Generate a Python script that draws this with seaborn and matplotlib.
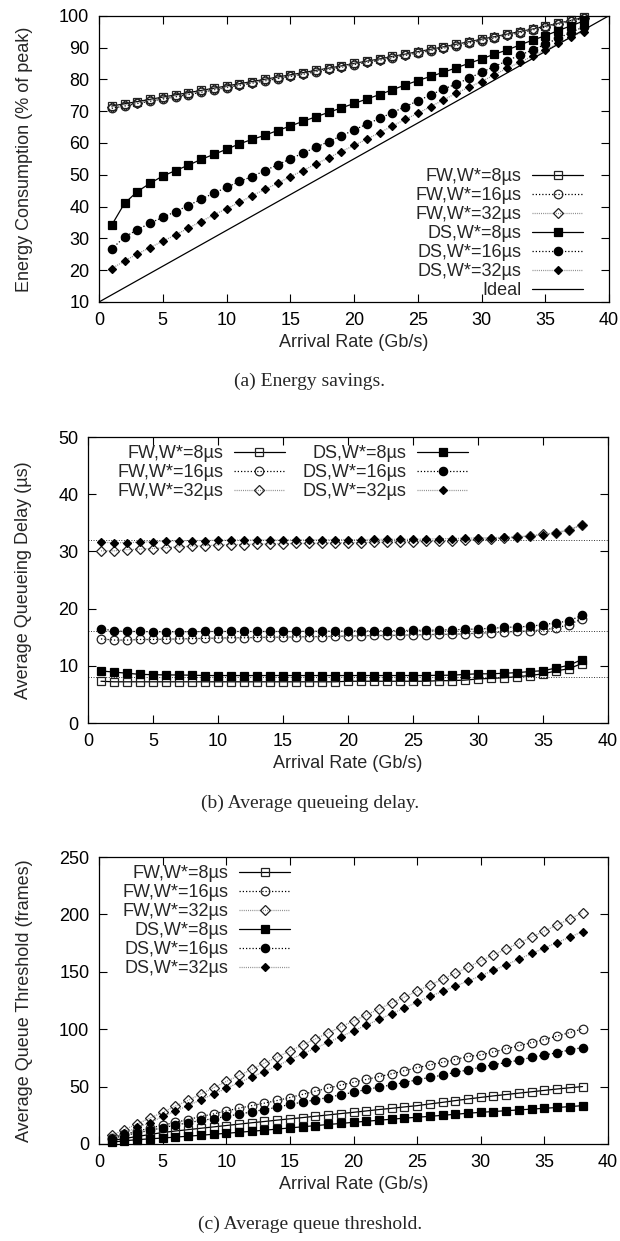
import matplotlib
matplotlib.use("Agg")
import matplotlib.pyplot as plt
import seaborn as sns

# ---------------------------------------------------------------- data
ARRIVAL = list(range(1, 39))            # arrival rate, Gb/s
X_TICKS = [0, 5, 10, 15, 20, 25, 30, 35, 40]

SERIES_LABELS = ["FW,W*=8µs", "FW,W*=16µs", "FW,W*=32µs",
                 "DS,W*=8µs", "DS,W*=16µs", "DS,W*=32µs"]
IDEAL_LABEL = "Ideal"

# (a) energy consumption, % of peak
ENERGY_FW8 = [71.6, 72.3, 73.0, 73.7, 74.4, 75.1, 75.8, 76.5, 77.2, 77.9,
              78.6, 79.3, 80.0, 80.7, 81.4, 82.1, 82.8, 83.5, 84.2, 85.0,
              85.7, 86.4, 87.2, 87.9, 88.7, 89.4, 90.2, 91.0, 91.8, 92.6,
              93.4, 94.2, 95.0, 95.8, 96.7, 97.6, 98.5, 99.5]
ENERGY_FW16 = [70.9, 71.6, 72.4, 73.1, 73.8, 74.5, 75.2, 75.9, 76.7, 77.4,
               78.1, 78.8, 79.5, 80.2, 80.9, 81.6, 82.4, 83.1, 83.8, 84.6,
               85.3, 86.0, 86.8, 87.5, 88.3, 89.0, 89.8, 90.6, 91.4, 92.2,
               93.0, 93.8, 94.6, 95.5, 96.4, 97.3, 98.2, 99.2]
ENERGY_FW32 = [71.2, 72.0, 72.7, 73.4, 74.1, 74.8, 75.5, 76.2, 76.9, 77.6,
               78.3, 79.0, 79.7, 80.4, 81.1, 81.8, 82.6, 83.3, 84.0, 84.8,
               85.5, 86.2, 87.0, 87.7, 88.5, 89.2, 90.0, 90.8, 91.6, 92.4,
               93.2, 94.0, 94.8, 95.7, 96.6, 97.5, 98.4, 99.4]
ENERGY_DS8 = [34.2, 41.0, 44.7, 47.3, 49.6, 51.3, 53.0, 54.8, 56.4, 58.0,
              59.7, 61.1, 62.4, 63.9, 65.3, 66.8, 68.2, 69.6, 71.0, 72.4,
              73.8, 75.2, 76.7, 78.2, 79.6, 80.9, 82.2, 83.6, 85.0, 86.4,
              87.9, 89.2, 90.8, 92.3, 93.7, 95.3, 96.8, 98.3]
ENERGY_DS16 = [26.7, 30.4, 32.7, 34.8, 36.6, 38.4, 40.3, 42.3, 44.2, 46.0,
               47.9, 49.4, 51.3, 53.1, 55.0, 56.8, 58.6, 60.4, 62.2, 64.1,
               65.9, 67.7, 69.5, 71.4, 73.2, 75.1, 76.9, 78.5, 80.3, 82.2,
               84.0, 85.8, 87.6, 89.2, 91.0, 92.9, 94.7, 96.5]
ENERGY_DS32 = [20.5, 22.9, 25.1, 27.1, 29.1, 31.1, 33.2, 35.3, 37.4, 39.3,
               41.3, 43.4, 45.4, 47.3, 49.4, 51.3, 53.4, 55.3, 57.3, 59.2,
               61.2, 63.2, 65.3, 67.4, 69.3, 71.4, 73.5, 75.6, 77.5, 79.3,
               81.4, 83.5, 85.3, 87.3, 89.2, 91.3, 93.2, 95.0]
IDEAL_X = [0, 40]
IDEAL_Y = [10, 100]
ENERGY_YTICKS = [10, 20, 30, 40, 50, 60, 70, 80, 90, 100]

# (b) average queueing delay, µs
DELAY_FW8 = [7.3, 7.2, 7.2, 7.2, 7.2, 7.2, 7.2, 7.2, 7.2, 7.2,
             7.2, 7.2, 7.2, 7.2, 7.2, 7.2, 7.2, 7.2, 7.2, 7.3,
             7.3, 7.3, 7.3, 7.3, 7.3, 7.3, 7.4, 7.4, 7.5, 7.7,
             7.8, 7.9, 8.1, 8.3, 8.6, 9.1, 9.5, 10.4]
DELAY_FW16 = [14.7, 14.5, 14.5, 14.6, 14.6, 14.65, 14.7, 14.75, 14.8, 14.85,
              14.9, 14.9, 14.95, 15.0, 15.0, 15.05, 15.1, 15.1, 15.15, 15.2,
              15.25, 15.3, 15.3, 15.35, 15.4, 15.45, 15.5, 15.5, 15.6, 15.7,
              15.8, 15.9, 16.0, 16.1, 16.3, 16.6, 17.2, 18.2]
DELAY_FW32 = [30.1, 30.1, 30.3, 30.4, 30.5, 30.65, 30.8, 30.9, 31.0, 31.1,
              31.2, 31.2, 31.3, 31.3, 31.35, 31.4, 31.4, 31.45, 31.5, 31.5,
              31.55, 31.6, 31.6, 31.65, 31.7, 31.75, 31.8, 31.9, 32.0, 32.1,
              32.2, 32.3, 32.5, 32.7, 33.0, 33.2, 33.7, 34.6]
DELAY_DS8 = [9.1, 8.9, 8.7, 8.5, 8.45, 8.4, 8.4, 8.35, 8.3, 8.3,
             8.3, 8.3, 8.3, 8.3, 8.3, 8.3, 8.3, 8.3, 8.3, 8.3,
             8.3, 8.3, 8.3, 8.3, 8.3, 8.3, 8.35, 8.35, 8.5, 8.6,
             8.6, 8.7, 8.8, 9.0, 9.15, 9.6, 10.1, 11.1]
DELAY_DS16 = [16.5, 16.1, 16.0, 16.0, 15.95, 15.95, 15.95, 15.95, 16.0, 16.0,
              16.0, 16.0, 16.0, 16.0, 16.0, 16.0, 16.05, 16.05, 16.05, 16.1,
              16.1, 16.1, 16.15, 16.15, 16.2, 16.2, 16.25, 16.3, 16.35, 16.45,
              16.55, 16.7, 16.8, 16.9, 17.2, 17.5, 17.85, 18.85]
DELAY_DS32 = [31.6, 31.5, 31.55, 31.6, 31.7, 31.8, 31.85, 31.9, 31.9, 31.95,
              31.95, 32.0, 32.0, 32.0, 32.0, 32.0, 32.0, 32.05, 32.05, 32.05,
              32.05, 32.1, 32.1, 32.1, 32.1, 32.15, 32.2, 32.25, 32.3, 32.35,
              32.4, 32.45, 32.55, 32.7, 32.95, 33.3, 33.8, 34.7]
DELAY_TARGETS = [8, 16, 32]
DELAY_YTICKS = [0, 10, 20, 30, 40, 50]

# (c) average queue threshold, frames
THRESH_FW8 = [3.0, 4.8, 6.5, 8.3, 10.0, 11.3, 12.5, 13.7, 14.9, 16.1,
              17.3, 18.5, 19.6, 20.8, 21.9, 23.0, 24.2, 25.3, 26.5, 27.6,
              28.8, 30.0, 31.1, 32.3, 33.4, 34.9, 36.3, 37.8, 39.2, 40.6,
              41.9, 43.1, 44.3, 45.5, 46.7, 47.9, 49.0, 50.0]
THRESH_FW16 = [5.2, 8.7, 11.0, 14.0, 16.3, 18.9, 21.2, 24.0, 26.2, 28.8,
               31.2, 33.4, 35.6, 37.9, 40.5, 43.2, 46.0, 48.7, 51.3, 53.8,
               56.2, 58.7, 61.1, 63.8, 66.5, 68.8, 71.2, 73.6, 76.2, 77.5,
               80.2, 82.9, 85.6, 88.3, 91.0, 94.0, 97.1, 100.3]
THRESH_FW32 = [7.5, 12.5, 17.5, 22.5, 27.5, 33.0, 38.0, 43.5, 49.0, 54.5,
               59.7, 65.0, 70.5, 75.7, 81.0, 86.3, 91.5, 96.8, 102.0, 107.2,
               112.4, 117.6, 122.8, 128.0, 133.2, 138.4, 143.6, 148.8, 154.0, 159.5,
               164.7, 170.0, 175.0, 180.3, 185.5, 190.8, 196.0, 201.5]
THRESH_DS8 = [1.5, 2.8, 3.8, 4.5, 5.2, 6.0, 6.8, 7.6, 8.5, 9.3,
              10.2, 11.1, 12.0, 13.0, 14.0, 15.0, 16.0, 17.0, 17.9, 18.9,
              19.8, 20.7, 21.6, 22.5, 23.3, 24.1, 25.0, 25.9, 26.8, 27.6,
              28.3, 29.0, 29.7, 30.4, 31.1, 31.8, 32.6, 33.4]
THRESH_DS16 = [4.5, 7.5, 9.5, 12.0, 14.0, 16.5, 18.5, 20.5, 22.0, 24.0,
               26.0, 28.0, 30.0, 32.0, 34.5, 36.5, 38.5, 40.5, 43.0, 45.0,
               47.5, 49.5, 51.5, 53.5, 56.0, 58.0, 60.0, 62.5, 64.5, 67.0,
               69.0, 71.0, 73.0, 75.5, 77.5, 79.5, 82.0, 84.0]
THRESH_DS32 = [5.0, 9.5, 14.5, 18.5, 24.0, 28.5, 33.5, 38.5, 43.5, 48.5,
               53.5, 58.5, 63.0, 68.0, 73.5, 78.5, 83.5, 88.5, 93.5, 98.5,
               103.5, 108.5, 113.5, 118.5, 123.5, 128.5, 133.0, 137.5, 142.0, 146.5,
               151.3, 156.2, 161.0, 166.0, 170.7, 175.5, 180.2, 185.0]
THRESH_YTICKS = [0, 50, 100, 150, 200, 250]

# ---------------------------------------------------------------- style
sns.set_theme(style="ticks")
plt.rcParams["font.family"] = ["Liberation Sans", "DejaVu Sans"]
plt.rcParams["axes.linewidth"] = 0.9
plt.rcParams["axes.edgecolor"] = "black"

DOT = (0, (1.0, 1.6))
FINE_DOT = (0, (0.8, 0.9))
SERIES_STYLES = [
    dict(color="black", linestyle="-", marker="s", markersize=6.2,
         markerfacecolor="none", markeredgecolor="#222222"),
    dict(color="black", linestyle=DOT, marker="o", markersize=6.2,
         markerfacecolor="none", markeredgecolor="#222222"),
    dict(color="#8c8c8c", linestyle=FINE_DOT, marker="D", markersize=4.6,
         markerfacecolor="none", markeredgecolor="#222222"),
    dict(color="black", linestyle="-", marker="s", markersize=6.4,
         markerfacecolor="black", markeredgecolor="black"),
    dict(color="black", linestyle=DOT, marker="o", markersize=6.0,
         markerfacecolor="black", markeredgecolor="black"),
    dict(color="#8c8c8c", linestyle=FINE_DOT, marker="D", markersize=4.2,
         markerfacecolor="black", markeredgecolor="black"),
]

FIG_W, FIG_H = 620, 1241
fig = plt.figure(figsize=(FIG_W / 100, FIG_H / 100), dpi=100)


def px_box(left, top, right, bottom):
    return [left / FIG_W, 1 - bottom / FIG_H,
            (right - left) / FIG_W, (bottom - top) / FIG_H]


def draw_panel(ax, series, yticks, ylabel, ylabel_x):
    for vals, label, style in zip(series, SERIES_LABELS, SERIES_STYLES):
        sns.lineplot(x=ARRIVAL, y=vals, ax=ax, label=label, linewidth=0.9,
                     markeredgewidth=0.9, clip_on=False, **style)
    ax.set_xlim(0, 40)
    ax.set_ylim(yticks[0], yticks[-1])
    ax.set_xticks(X_TICKS)
    ax.set_yticks(yticks)
    ax.tick_params(direction="in", top=True, right=True, length=5.5,
                   width=0.8, labelsize=13, pad=7, colors="black")
    ax.set_xlabel("Arrival Rate (Gb/s)", fontsize=13)
    ax.set_ylabel(ylabel, fontsize=13)
    ax.xaxis.set_label_coords(0.5, -0.112)
    ax.yaxis.set_label_coords(ylabel_x, 0.5)
    for sp in ax.spines.values():
        sp.set_visible(True)
        sp.set_color("black")


LEGEND_KW = dict(frameon=False, fontsize=13, markerfirst=False, numpoints=1,
                 handlelength=2.8, handletextpad=0.6, labelspacing=0.11,
                 borderpad=0, borderaxespad=0, columnspacing=1.0)

# (a) energy savings
ax_a = fig.add_axes(px_box(99, 15.7, 609, 302))
draw_panel(ax_a, [ENERGY_FW8, ENERGY_FW16, ENERGY_FW32,
                  ENERGY_DS8, ENERGY_DS16, ENERGY_DS32],
           ENERGY_YTICKS, "Energy Consumption (% of peak)", -0.13)
sns.lineplot(x=IDEAL_X, y=IDEAL_Y, ax=ax_a, color="black", linewidth=0.9,
             label=IDEAL_LABEL)
ax_a.legend(loc="upper right", bbox_to_anchor=(583 / FIG_W, 1 - 168 / FIG_H),
            bbox_transform=fig.transFigure, **LEGEND_KW)

# (b) average queueing delay
ax_b = fig.add_axes(px_box(88, 437, 608, 723))
for target in DELAY_TARGETS:
    ax_b.axhline(target, color="#333333", linewidth=0.7, linestyle=DOT, zorder=1)
draw_panel(ax_b, [DELAY_FW8, DELAY_FW16, DELAY_FW32,
                  DELAY_DS8, DELAY_DS16, DELAY_DS32],
           DELAY_YTICKS, "Average Queueing Delay (µs)", -0.108)
ax_b.legend(loc="upper right", bbox_to_anchor=(468 / FIG_W, 1 - 445 / FIG_H),
            bbox_transform=fig.transFigure, ncol=2, **LEGEND_KW)

# (c) average queue threshold
ax_c = fig.add_axes(px_box(99, 857, 608, 1144))
draw_panel(ax_c, [THRESH_FW8, THRESH_FW16, THRESH_FW32,
                  THRESH_DS8, THRESH_DS16, THRESH_DS32],
           THRESH_YTICKS, "Average Queue Threshold (frames)", -0.13)
ax_c.legend(loc="upper right", bbox_to_anchor=(290 / FIG_W, 1 - 865 / FIG_H),
            bbox_transform=fig.transFigure, **LEGEND_KW)

# sub-figure captions
CAPTIONS = [("(a) Energy savings.", 381),
            ("(b) Average queueing delay.", 803),
            ("(c) Average queue threshold.", 1224)]
for text, ypx in CAPTIONS:
    fig.text(0.5, 1 - ypx / FIG_H, text, ha="center", va="center",
             fontsize=14, family=["Liberation Serif", "DejaVu Serif"])

fig.savefig("out.png", dpi=100)
